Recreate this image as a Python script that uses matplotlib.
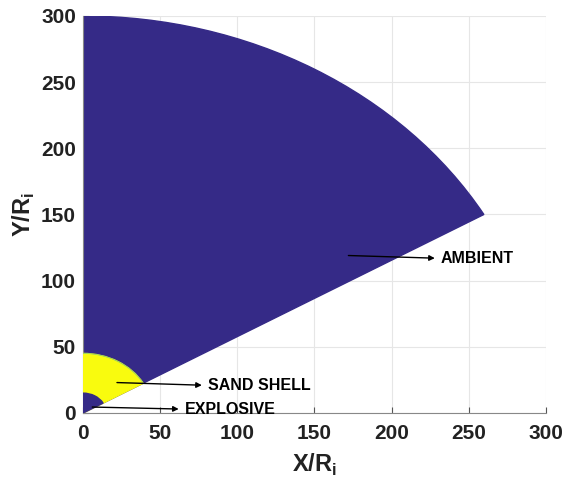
import numpy as np
import matplotlib.pyplot as plt
from matplotlib.patches import Wedge

plt.rcParams['font.family'] = ['Liberation Sans', 'DejaVu Sans']

# sector geometry (normalised by R_i)
theta_min, theta_max = 30, 90
r_explosive = 15
r_sand = 45
r_ambient = 300

dark = '#352a87'
yellow = '#f9fb0e'

# label text, arrow tail, arrow head
labels = ['AMBIENT', 'SAND SHELL', 'EXPLOSIVE']
tails = [(172, 119), (22, 23), (6, 4.5)]
heads = [(228, 117), (77, 21), (62, 3)]

fig = plt.figure(figsize=(5.71, 4.79), dpi=100)
ax = fig.add_axes([0.1454, 0.1378, 0.8106, 0.8288])

ax.add_patch(Wedge((0, 0), r_ambient, theta_min, theta_max, color=dark, zorder=2))
ax.add_patch(Wedge((0, 0), r_sand, theta_min, theta_max, color=yellow, zorder=3))
t = np.radians(np.linspace(theta_min, theta_max, 100))
ax.plot(r_sand*np.cos(t), r_sand*np.sin(t), color='#7cc87a', lw=0.5, zorder=3)
ax.add_patch(Wedge((0, 0), r_explosive, theta_min, theta_max, color=dark, zorder=4))

for lab, (x0, y0), (x1, y1) in zip(labels, tails, heads):
    ax.annotate('', xy=(x1, y1), xytext=(x0, y0),
                arrowprops=dict(arrowstyle='-|>', color='black', lw=1.0,
                                mutation_scale=8, shrinkA=0, shrinkB=0),
                zorder=5)
    ax.text(x1 + 4, y1, lab, fontsize=11.5, fontweight='bold',
            va='center', ha='left', zorder=5)

ax.set_xlim(0, 300)
ax.set_ylim(0, 300)
ticks = np.arange(0, 301, 50)
ax.set_xticks(ticks)
ax.set_yticks(ticks)
ax.tick_params(direction='in', labelsize=15, length=4, color='#555555')
ax.tick_params(axis='x', pad=8)
ax.tick_params(axis='y', pad=5)
for lbl in ax.get_xticklabels() + ax.get_yticklabels():
    lbl.set_fontweight('bold')
    lbl.set_color('#222222')
ax.grid(True, color='#e6e6e6', lw=0.8, zorder=0)
ax.set_axisbelow(True)
for s in ['top', 'right']:
    ax.spines[s].set_visible(False)
for s in ['left', 'bottom']:
    ax.spines[s].set_color('#888888')

ax.set_xlabel('X/R$_\\mathregular{i}$', fontsize=17, fontweight='bold', color='#222222',
              labelpad=6)
ax.set_ylabel('Y/R$_\\mathregular{i}$', fontsize=17, fontweight='bold', color='#222222',
              labelpad=3)

fig.savefig('out.png', dpi=100)
